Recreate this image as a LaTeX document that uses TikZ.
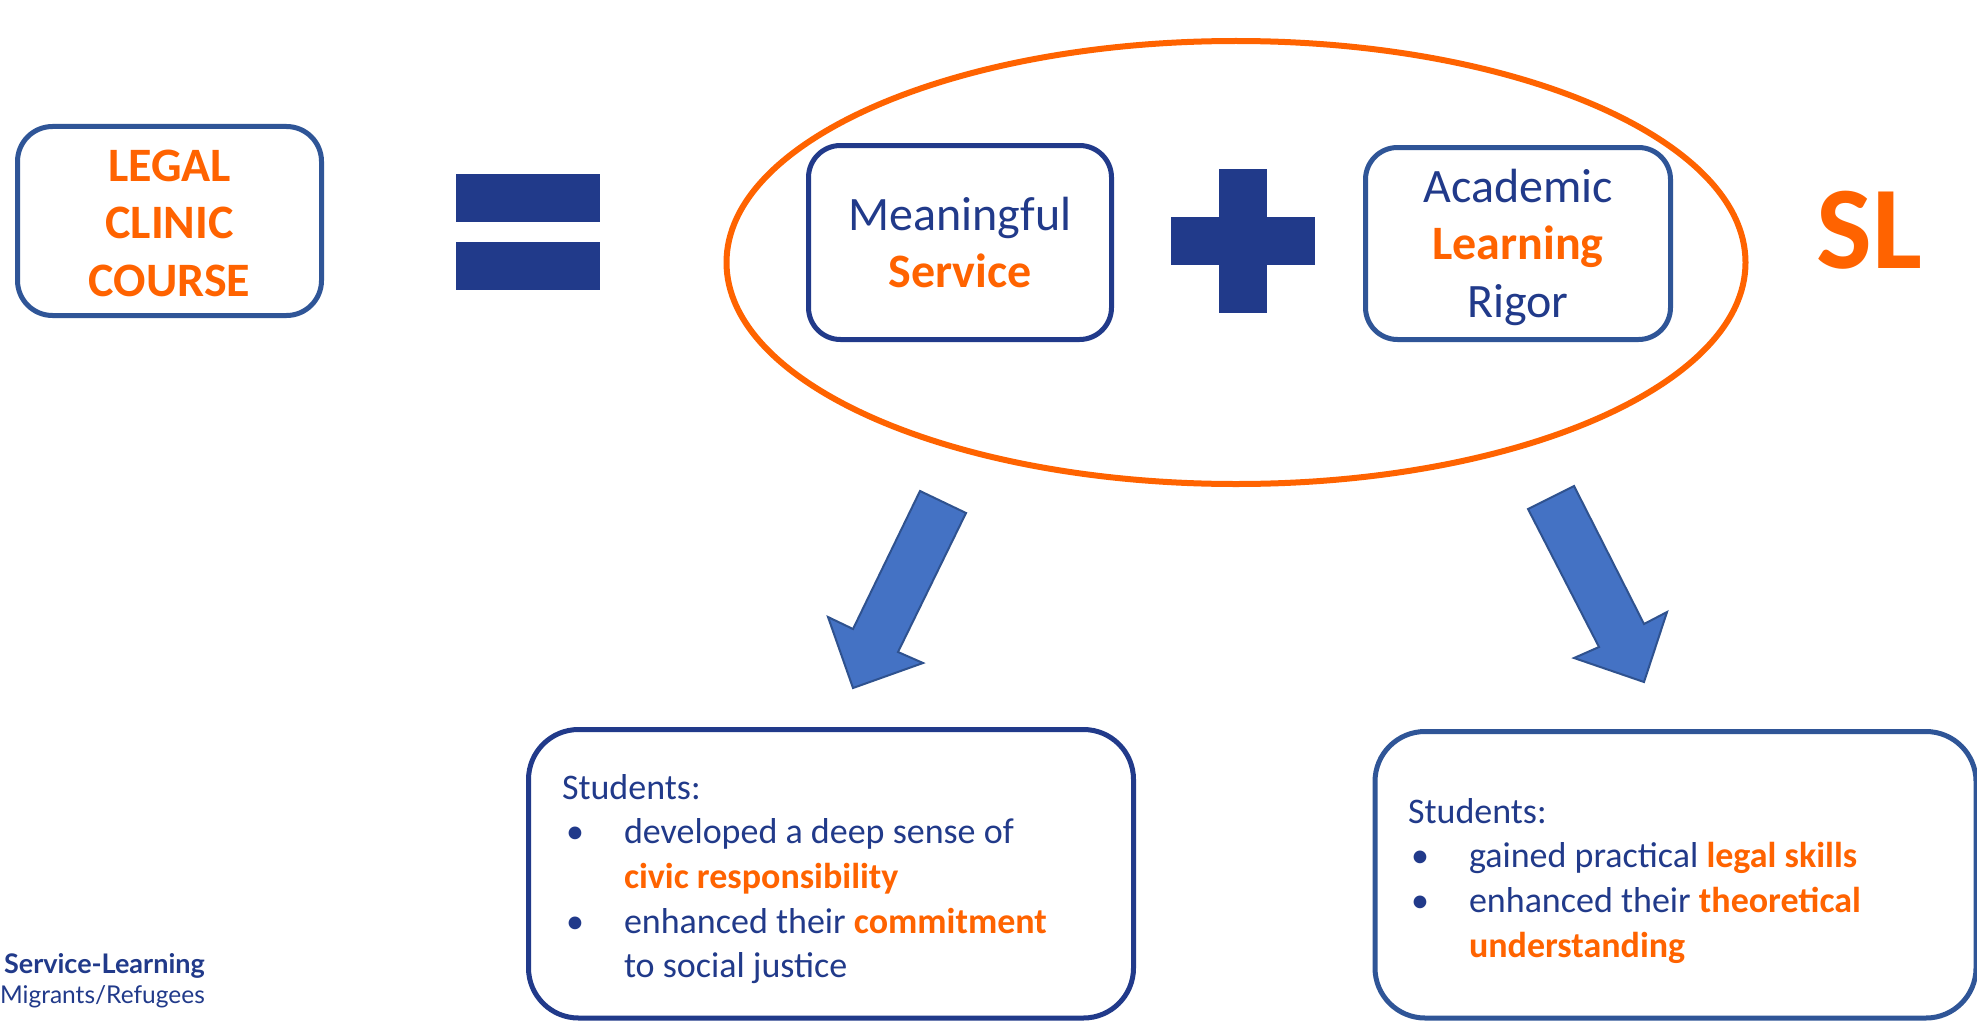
\documentclass[tikz,border=0pt]{standalone}
\usepackage{fontspec}
\setmainfont{Carlito}
\newfontfamily\logofont{Lato}
\definecolor{navy}{RGB}{33,58,138}
\definecolor{boxblue}{RGB}{47,85,151}
\definecolor{slorange}{RGB}{255,99,0}
\definecolor{arrowfill}{RGB}{68,114,196}
\definecolor{arrowline}{RGB}{47,82,143}
\begin{document}
\begin{tikzpicture}[x=1pt,y=-1pt,
  framebox/.style={draw, line width=5pt, fill=white, inner sep=0pt, outer sep=0pt},
  bigtxt/.style={inner sep=0pt, outer sep=0pt, anchor=base, font=\fontsize{48}{57}\selectfont},
  smalltxt/.style={inner sep=0pt, outer sep=0pt, anchor=base west, text=navy, font=\fontsize{36}{44}\selectfont},
  blockarrow/.style={fill=arrowfill, draw=arrowline, line width=2pt, line join=miter},
  sign/.style={fill=navy}]
\useasboundingbox (0,0) rectangle (1977,1022);
\fill[white] (0,0) rectangle (1977,1022);

% ellipse
\draw[slorange, line width=6pt] (1236,262.5) ellipse [x radius=509.5, y radius=221.5];

% boxes
\node[framebox, draw=boxblue, rounded corners=35pt, minimum width=304pt, minimum height=189pt] (legal) at (169.5,221) {};
\node[framebox, draw=navy, rounded corners=32pt, minimum width=303pt, minimum height=194pt] (service) at (960,242.5) {};
\node[framebox, draw=boxblue, rounded corners=32pt, minimum width=305pt, minimum height=192pt] (academic) at (1518,243.5) {};
\node[framebox, draw=navy, rounded corners=50pt, minimum width=605pt, minimum height=288.5pt] (civic) at (831,873.75) {};
\node[framebox, draw=boxblue, rounded corners=50pt, minimum width=601pt, minimum height=286.5pt] (skills) at (1675.5,874.75) {};

% legal clinic text
\node[bigtxt, text=slorange, font=\fontsize{48}{57}\selectfont\bfseries] (l1) at (169.5,181) {LEGAL};
\node[bigtxt, text=slorange, font=\fontsize{48}{57}\selectfont\bfseries] (l2) at (169.5,238) {CLINIC};
\node[bigtxt, text=slorange, font=\fontsize{48}{57}\selectfont\bfseries] (l3) at (169.5,296) {COURSE};

% equals sign
\fill[sign] (456,174) rectangle (600,222);
\fill[sign] (456,242) rectangle (600,290);

% service text
\node[bigtxt, text=navy] (s1) at (960,230) {Meaningful};
\node[bigtxt, text=slorange, font=\fontsize{48}{57}\selectfont\bfseries] (s2) at (960,287) {Service};

% plus sign
\fill[sign] (1219,169) rectangle (1267,313);
\fill[sign] (1171,217) rectangle (1315,265);

% academic text
\node[bigtxt, text=navy] (a1) at (1518,202) {Academic};
\node[bigtxt, text=slorange, font=\fontsize{48}{57}\selectfont\bfseries] (a2) at (1518,259) {Learning};
\node[bigtxt, text=navy] (a3) at (1518,317) {Rigor};

% SL
\node[inner sep=0pt, anchor=base, text=slorange, font=\fontsize{118}{130}\selectfont\bfseries] (sl) at (1869.5,268) {SL};

% block arrows
\coordinate (la1) at (920,491);
\coordinate (la2) at (966,513);
\coordinate (la3) at (898,652);
\coordinate (la4) at (923,663);
\coordinate (la5) at (853,688);
\coordinate (la6) at (828,617);
\coordinate (la7) at (853,629);
\filldraw[blockarrow] (la1) -- (la2) -- (la3) -- (la4) -- (la5) -- (la6) -- (la7) -- cycle;
\coordinate (ra1) at (1528,509);
\coordinate (ra2) at (1574,486);
\coordinate (ra3) at (1644,624);
\coordinate (ra4) at (1667,612);
\coordinate (ra5) at (1644,682);
\coordinate (ra6) at (1574,658);
\coordinate (ra7) at (1599,647);
\filldraw[blockarrow] (ra1) -- (ra2) -- (ra3) -- (ra4) -- (ra5) -- (ra6) -- (ra7) -- cycle;

% bottom-left text
\node[smalltxt] (c0) at (562,799) {Students:};
\node[smalltxt] (cb1) at (566,843) {•};
\node[smalltxt] (c1) at (624,843) {developed a deep sense of};
\node[smalltxt] (c2) at (624,888) {\textcolor{slorange}{\bfseries civic responsibility}};
\node[smalltxt] (cb2) at (566,933) {•};
\node[smalltxt] (c3) at (624,933) {enhanced their \textcolor{slorange}{\bfseries commitment}};
\node[smalltxt] (c4) at (624,977) {to social justice};

% bottom-right text
\node[smalltxt] (k0) at (1408,823) {Students:};
\node[smalltxt] (kb1) at (1411,867) {•};
\node[smalltxt] (k1) at (1469,867) {gained practical \textcolor{slorange}{\bfseries legal skills}};
\node[smalltxt] (kb2) at (1411,912) {•};
\node[smalltxt] (k2) at (1469,912) {enhanced their \textcolor{slorange}{\bfseries theoretical}};
\node[smalltxt] (k3) at (1469,957) {\textcolor{slorange}{\bfseries understanding}};

% logo text
\node[inner sep=0pt, anchor=base east, text=navy, font=\logofont\fontsize{27}{32}\selectfont\bfseries] (logo1) at (205,973) {Service-Learning};
\node[inner sep=0pt, anchor=base east, text=navy, font=\logofont\fontsize{24.5}{30}\selectfont] (logo2) at (205,1003) {Migrants/Refugees};
\end{tikzpicture}
\end{document}
